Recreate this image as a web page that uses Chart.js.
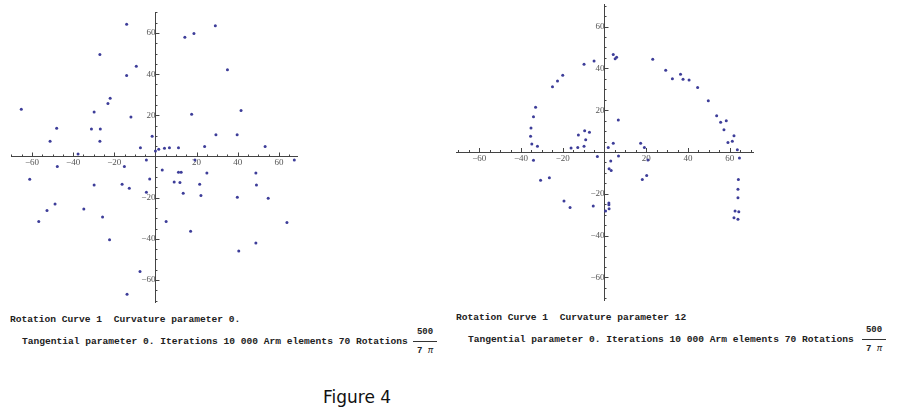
<!DOCTYPE html>
<html>
<head>
<meta charset="utf-8">
<script src="https://cdn.jsdelivr.net/npm/chart.js@4/dist/chart.umd.min.js"></script>
<style>
  html, body { margin: 0; padding: 0; background: #fff; width: 900px; height: 420px; overflow: hidden; }
  canvas { position: absolute; }
  .cap { position: absolute; font-family: "Liberation Mono", "DejaVu Sans Mono", monospace; font-weight: bold; font-size: 9.6px; line-height: 12px; color: #222; white-space: pre; }
  .frac { position: absolute; font-family: "Liberation Mono", monospace; font-weight: bold; font-size: 9px; line-height: 11px; color: #222; text-align: center; width: 26px; }
  .fracline { position: absolute; height: 0; border-top: 1px solid #333; width: 24px; }
  .fig { position: absolute; font-family: "DejaVu Sans", sans-serif; font-size: 17px; line-height: 20px; color: #111; }
</style>
</head>
<body>
<canvas id="c1" width="310" height="310" style="left:0px;top:0px"></canvas>
<canvas id="c2" width="330" height="310" style="left:440px;top:0px"></canvas>

<div class="cap" style="left:10px;top:314px">Rotation Curve 1  Curvature parameter 0.</div>
<div class="cap" style="left:22px;top:336px">Tangential parameter 0. Iterations 10 000 Arm elements 70 Rotations</div>
<div class="frac" style="left:412px;top:327px">500</div>
<div class="fracline" style="left:413px;top:341px"></div>
<div class="frac" style="left:412px;top:346px">7 <i style="font-weight:normal">π</i></div>

<div class="cap" style="left:456px;top:312px">Rotation Curve 1  Curvature parameter 12</div>
<div class="cap" style="left:468px;top:334px">Tangential parameter 0. Iterations 10 000 Arm elements 70 Rotations</div>
<div class="frac" style="left:861px;top:325px">500</div>
<div class="fracline" style="left:862px;top:339px"></div>
<div class="frac" style="left:861px;top:344px">7 <i style="font-weight:normal">π</i></div>

<div class="fig" style="left:323px;top:387px">Figure 4</div>

<script>
// ---- data ----
const leftX = [-65.2,-51.2,-48,-37.6,-31.1,-29.8,-27,-26.8,-27,-23.1,-22,-14,-14,-11.9,-9.3,-7.3,-1.6,0,1.6,4.4,6.8,11.2,14.3,18.7,17.6,23.9,29.1,29.4,35,39.7,41.6,53.3,
  -47.7,-61.1,-29.8,-16.2,-15.1,-12.7,-4.4,-2.8,-4.4,-48.8,-52.7,-56.7,-34.8,-25.7,-22.3,-7.5,-13.8,3.3,5.2,9.1,11.2,12.5,11.9,13.5,17.1,19.2,21.5,22.1,25,39.8,40.5,48.8,49.1,48.8,54.8,63.9,67.5];
const leftY = [22.9,7.4,13.7,1.2,13.3,21.6,49.6,13.3,7.4,25.8,28.3,64.2,39.4,19.2,43.8,4.3,9.8,2.7,3.5,4.0,4.3,4.3,57.9,59.8,20.5,4.8,63.5,10.6,42.1,10.6,22.4,4.8,
  -4.9,-11.1,-13.8,-13.5,-4.9,-15.4,-1.7,-10.9,-17.4,-23.1,-26.3,-31.6,-25.5,-29.4,-40.5,-55.9,-66.9,-6.6,-31.6,-12.4,-7.7,-7.7,-12.7,-17.9,-36.3,-1.7,-13.5,-19,-8.0,-19.8,-45.9,-8.0,-13.8,-42,-20.3,-32.1,-1.7];

const rightX = [-35.2,-35.4,-34.8,-34,-33,-32.1,-24.9,-22.5,-20,-16,-12.8,-12.5,-9.8,-9.8,-9.5,-9,-7.2,-5,-3.4,1.8,4.2,4.2,5.1,5.8,6.6,6.7,17.3,19.1,23.1,29.3,
  3.0,2.2,3.2,2.1,2.1,0.5,2.2,20.8,20.2,18.1,32.5,36.4,37.6,40.5,44.6,49.7,53.7,55.6,58.3,57.2,62,59.1,61.2,63.6,64.6,64.1,63.9,63.9,62.5,64.3,62,63.9,
  -34,-30.6,-26.4,-19.4,-16.5,-5.4];
const rightY = [11.5,7.5,3.8,16.9,21.4,2.7,31.2,34,36.7,1.9,2.2,8.1,42,2.7,10.2,5.9,9.4,43.5,-2.2,2.2,46.7,4.2,44.6,45.3,15.3,-1.9,4.2,2.2,44.4,39.1,
  -4.3,-8.0,-8.8,-24.4,-25.2,-28.2,-27.1,-3.8,-11.2,-13.2,35.1,37.2,34.8,34.4,30.9,24.5,17.4,14.2,15,10.7,7.8,4.6,5.1,1.1,-2.9,-13.1,-17.8,-21.9,-28.2,-28.6,-31.4,-32.2,
  -4,-13.5,-12.3,-23.4,-26.6,-25.8];

const majorStep = 20;   // labelled ticks
const minorStep = 5;    // small ticks
const leftRange  = { xmin: -70.2, xmax: 68.8, ymin: -70.7, ymax: 70.2 };
const rightRange = { xmin: -71.1, xmax: 71.1, ymin: -70.8, ymax: 70.8 };

// ---- helpers ----
const pointColor = '#3d3d99';
const axisColor = '#444';

function pts(xs, ys) { return xs.map((x, i) => ({ x: x, y: ys[i] })); }

function tickLabel(v) {
  const r = Math.round(v);
  if (r === 0 || r % majorStep !== 0) return '';
  return r < 0 ? '\u2212' + (-r) : String(r);
}

function fitZero(s) {
  if (s.isHorizontal()) s.height = 0; else s.width = 0;
  s.paddingLeft = s.paddingRight = s.paddingTop = s.paddingBottom = 0;
}

// tick marks on the positive side of each axis (Mathematica style)
const innerTicks = {
  id: 'innerTicks',
  afterDraw(chart) {
    const xs = chart.scales.x, ys = chart.scales.y, ctx = chart.ctx;
    const x0 = xs.getPixelForValue(0), y0 = ys.getPixelForValue(0);
    ctx.save();
    ctx.strokeStyle = axisColor;
    ctx.lineWidth = 1;
    ctx.beginPath();
    xs.ticks.forEach(t => {
      const v = Math.round(t.value);
      if (v === 0) return;
      const len = (v % majorStep === 0) ? 4 : 2;
      const px = Math.round(xs.getPixelForValue(t.value)) + 0.5;
      ctx.moveTo(px, y0);
      ctx.lineTo(px, y0 - len);
    });
    ys.ticks.forEach(t => {
      const v = Math.round(t.value);
      if (v === 0) return;
      const len = (v % majorStep === 0) ? 4 : 2;
      const py = Math.round(ys.getPixelForValue(t.value)) + 0.5;
      ctx.moveTo(x0, py);
      ctx.lineTo(x0 + len, py);
    });
    ctx.stroke();
    ctx.restore();
  }
};

function makeChart(id, xs, ys, range, padding) {
  const tickFont = { family: '"Liberation Serif", "DejaVu Serif", serif', size: 9 };
  return new Chart(document.getElementById(id), {
    type: 'scatter',
    data: {
      datasets: [{
        data: pts(xs, ys),
        backgroundColor: pointColor,
        borderColor: pointColor,
        borderWidth: 0,
        pointRadius: 1.5,
        pointHoverRadius: 1.5
      }]
    },
    options: {
      responsive: false,
      animation: false,
      devicePixelRatio: 1,
      layout: { padding: padding },
      plugins: { legend: { display: false }, tooltip: { enabled: false } },
      scales: {
        x: {
          type: 'linear',
          position: { y: 0 },
          min: range.xmin, max: range.xmax,
          grid: { display: false, drawTicks: false },
          border: { display: true, color: axisColor, width: 1 },
          ticks: { stepSize: minorStep, includeBounds: false, autoSkip: false, maxRotation: 0, minRotation: 0,
                   maxTicksLimit: 1000, padding: 1, color: '#555', font: tickFont, callback: tickLabel },
          afterFit: fitZero
        },
        y: {
          type: 'linear',
          position: { x: 0 },
          min: range.ymin, max: range.ymax,
          grid: { display: false, drawTicks: false },
          border: { display: true, color: axisColor, width: 1 },
          ticks: { stepSize: minorStep, includeBounds: false, autoSkip: false,
                   maxTicksLimit: 1000, padding: 2, color: '#555', font: tickFont, callback: tickLabel },
          afterFit: fitZero
        }
      }
    },
    plugins: [innerTicks]
  });
}

makeChart('c1', leftX, leftY, leftRange, { left: 11, top: 12, right: 13, bottom: 8 });
makeChart('c2', rightX, rightY, rightRange, { left: 16, top: 4, right: 17, bottom: 10 });
</script>
</body>
</html>
